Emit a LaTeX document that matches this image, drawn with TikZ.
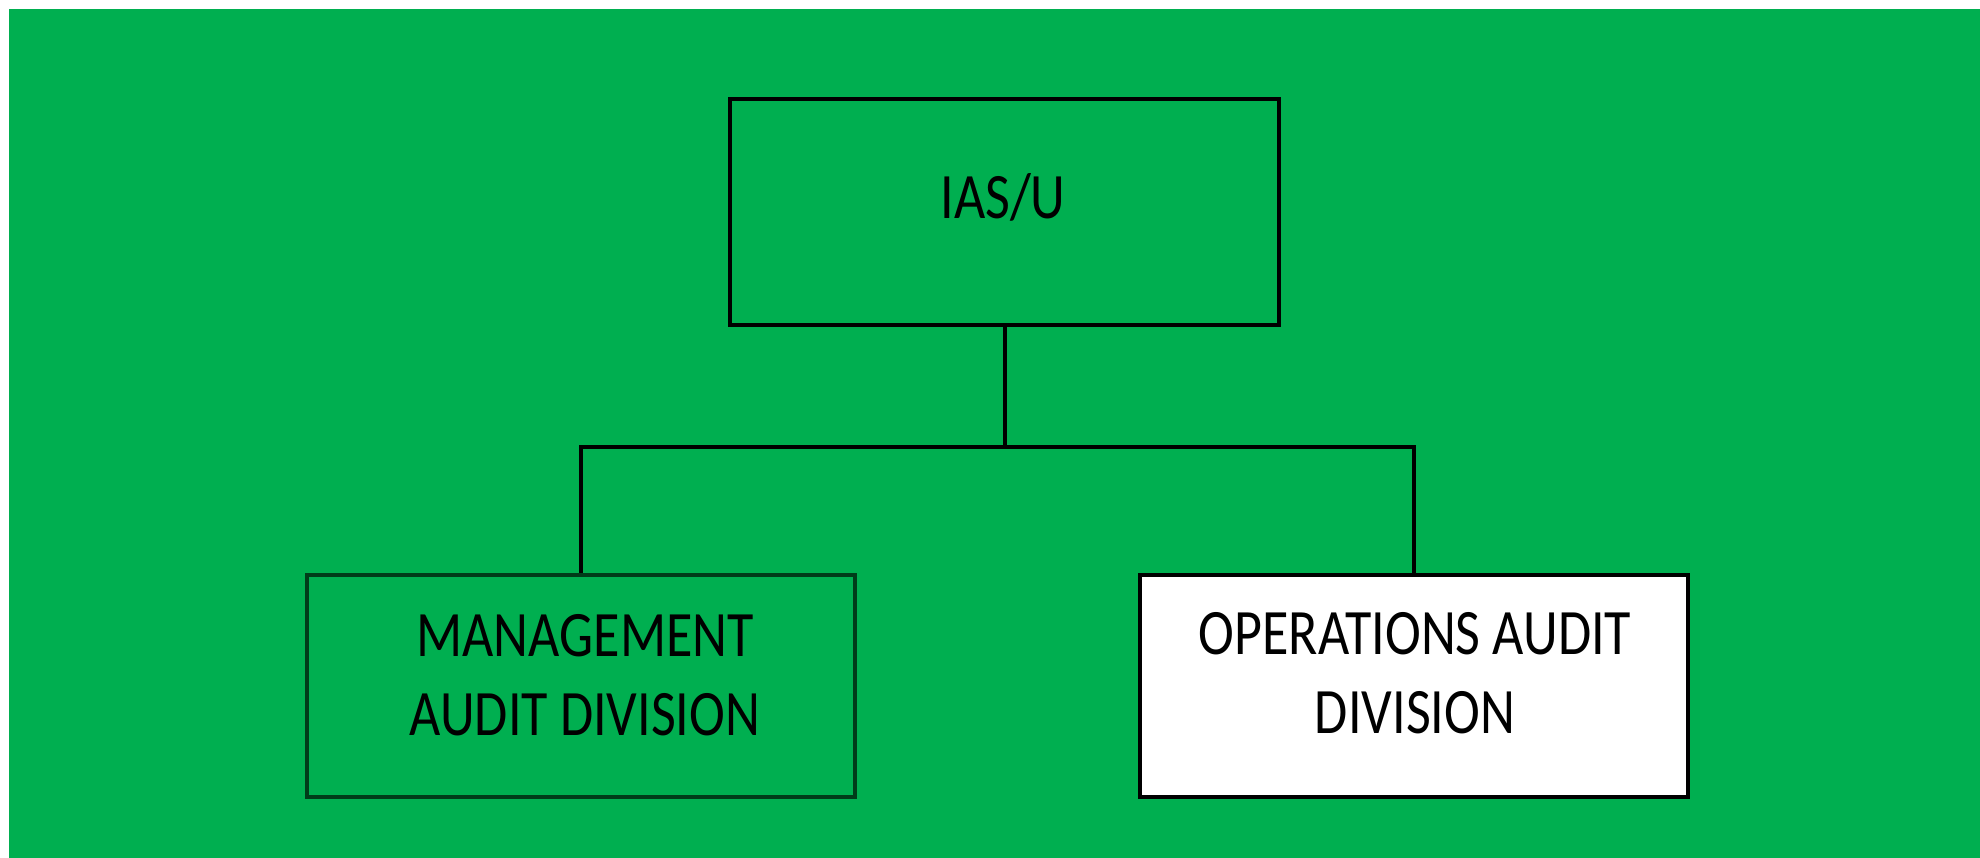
\documentclass[tikz,border=0pt]{standalone}
\usepackage{fontspec}
\setmainfont{Carlito}
\usepackage{graphicx}
\definecolor{bggreen}{RGB}{0,175,80}
\definecolor{edgegreen}{RGB}{0,60,25}
\begin{document}
\begin{tikzpicture}[x=1pt,y=1pt,
  unit/.style={draw=black, line width=4pt, minimum width=549pt, minimum height=226pt,
    inner sep=0pt, fill=bggreen},
  division/.style={draw=black, line width=4pt, minimum width=548pt, minimum height=222pt,
    inner sep=0pt},
  caption/.style={inner sep=0pt, text=black, align=center,
    font=\fontsize{54}{66}\selectfont},
  link/.style={draw=black, line width=4pt}]
  \useasboundingbox (0,0) rectangle (1980,858);
  % page background
  \fill[bggreen] (9,0) rectangle (1980,849);

  % boxes
  \node[unit] (ias) at (1004.5,646) {};
  \node[division, fill=bggreen, draw=edgegreen] (mad) at (581,172) {};
  \node[division, fill=white] (oad) at (1413.5,172) {};

  % captions
  \node[caption] (iastxt) at (1003,661) {\scalebox{1}[1.2]{IAS/U}};
  \node[caption] (madtxt) at (585,178)
    {\scalebox{1}[1.2]{\begin{tabular}{@{}c@{}}MANAGEMENT\\AUDIT DIVISION\end{tabular}}};
  \node[caption] (oadtxt) at (1415,180)
    {\scalebox{1}[1.2]{\begin{tabular}{@{}c@{}}OPERATIONS AUDIT\\DIVISION\end{tabular}}};

  % reporting lines
  \coordinate (split) at ([yshift=-120pt]ias.south);
  \draw[link] (ias.south) -- (split);
  \draw[link] (split) -| (mad.north);
  \draw[link] (split) -| (oad.north);
\end{tikzpicture}
\end{document}
